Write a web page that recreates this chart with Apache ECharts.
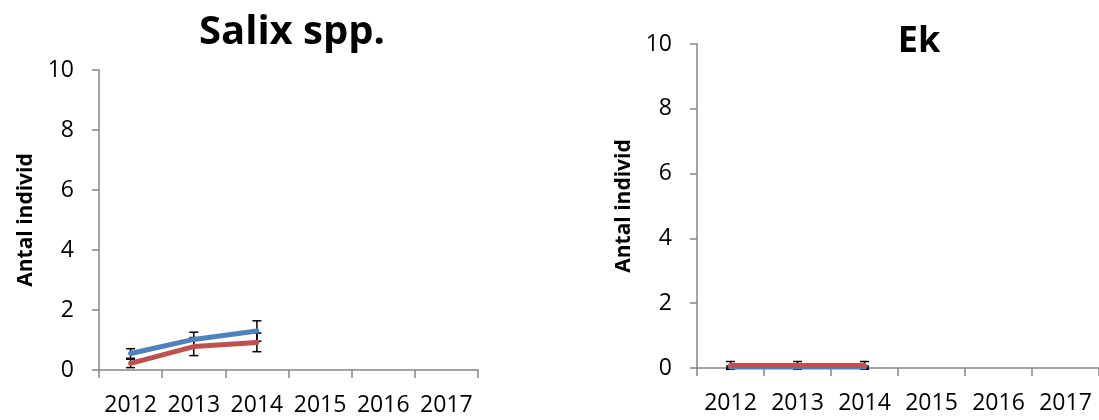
<!DOCTYPE html>
<html>
<head>
<meta charset="utf-8">
<script src="https://cdn.jsdelivr.net/npm/echarts@6.0.0/dist/echarts.min.js"></script>
<style>
  html, body { margin: 0; padding: 0; background: #fff; }
  #main { width: 1099px; height: 420px; }
</style>
</head>
<body>
<div id="main"></div>
<script>
// kategorier (år) och värden
const years = ['2012', '2013', '2014', '2015', '2016', '2017']

// Salix spp.
const salixBlue = [0.55, 1.02, 1.30]
const salixBlueErr = [0.16, 0.24, 0.34]
const salixRed = [0.22, 0.78, 0.92]
const salixRedErr = [0.14, 0.30, 0.31]

// Ek
const ekBlue = [0.03, 0.03, 0.03]
const ekBlueErr = [0.03, 0.03, 0.03]
const ekRed = [0.08, 0.08, 0.08]
const ekRedErr = [0.12, 0.12, 0.12]

const FONT = 'Open Sans'
const AXIS_GRAY = '#868686'
const BLUE = '#4F81BD'
const RED = '#C0504D'

function errData(values, errs) {
  return values.map((v, i) => [i, v - errs[i], v + errs[i]])
}

// felstaplar ritas med en custom-serie
function renderErr(params, api) {
  const x = api.value(0)
  const low = api.coord([x, api.value(1)])
  const high = api.coord([x, api.value(2)])
  const half = 4.5
  const style = { stroke: '#000', lineWidth: 1.5 }
  return {
    type: 'group',
    children: [
      { type: 'line', shape: { x1: low[0], y1: low[1], x2: high[0], y2: high[1] }, style },
      { type: 'line', shape: { x1: high[0] - half, y1: high[1], x2: high[0] + half, y2: high[1] }, style },
      { type: 'line', shape: { x1: low[0] - half, y1: low[1], x2: low[0] + half, y2: low[1] }, style }
    ]
  }
}

function xAxisFor(gridIndex) {
  return {
    type: 'category',
    gridIndex,
    data: years,
    boundaryGap: true,
    axisLine: { lineStyle: { color: AXIS_GRAY, width: 1.5 } },
    axisTick: { show: true, alignWithLabel: false, length: 8, lineStyle: { color: AXIS_GRAY, width: 1.5 } },
    axisLabel: { color: '#000', fontFamily: FONT, fontSize: 23, margin: 24, interval: 0 },
    splitLine: { show: false }
  }
}

function yAxisFor(gridIndex) {
  return {
    type: 'value',
    gridIndex,
    min: 0,
    max: 10,
    interval: 2,
    name: 'Antal individ',
    nameLocation: 'middle',
    nameGap: 62,
    nameTextStyle: { color: '#000', fontFamily: FONT, fontSize: 21, fontWeight: 'bold' },
    axisLine: { show: true, lineStyle: { color: AXIS_GRAY, width: 1.5 } },
    axisTick: { show: true, length: 7, lineStyle: { color: AXIS_GRAY, width: 1.5 } },
    axisLabel: { color: '#000', fontFamily: FONT, fontSize: 23, margin: 25 },
    splitLine: { show: false }
  }
}

function lineSeries(values, color, idx) {
  return {
    type: 'line',
    xAxisIndex: idx,
    yAxisIndex: idx,
    data: values,
    symbol: 'none',
    showSymbol: false,
    lineStyle: { color, width: 5, cap: 'round', join: 'round' },
    z: 3,
    animation: false
  }
}

function errSeries(values, errs, idx) {
  return {
    type: 'custom',
    xAxisIndex: idx,
    yAxisIndex: idx,
    data: errData(values, errs),
    renderItem: renderErr,
    z: 2,
    animation: false
  }
}

const myChart = echarts.init(document.getElementById('main'))
const option = {
  animation: false,
  title: [
    {
      text: 'Salix spp.',
      left: 287,
      top: 8,
      textAlign: 'center',
      textStyle: { fontFamily: FONT, fontSize: 40, fontWeight: 'bold', color: '#000' }
    },
    {
      text: 'Ek',
      left: 914,
      top: 19,
      textAlign: 'center',
      textStyle: { fontFamily: FONT, fontSize: 36, fontWeight: 'bold', color: '#000' }
    }
  ],
  grid: [
    { left: 99, top: 70, width: 379, height: 300 },
    { left: 697, top: 44, width: 408, height: 324 }
  ],
  xAxis: [xAxisFor(0), xAxisFor(1)],
  yAxis: [yAxisFor(0), yAxisFor(1)],
  series: [
    errSeries(salixBlue, salixBlueErr, 0),
    errSeries(salixRed, salixRedErr, 0),
    lineSeries(salixBlue, BLUE, 0),
    lineSeries(salixRed, RED, 0),
    errSeries(ekBlue, ekBlueErr, 1),
    errSeries(ekRed, ekRedErr, 1),
    lineSeries(ekBlue, BLUE, 1),
    lineSeries(ekRed, RED, 1)
  ]
}
myChart.setOption(option)
</script>
</body>
</html>
